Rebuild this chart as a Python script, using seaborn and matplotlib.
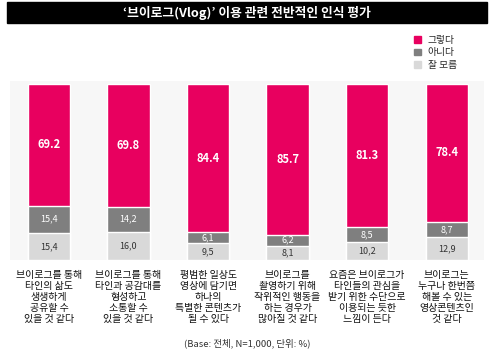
import matplotlib
matplotlib.use("Agg")
import matplotlib.pyplot as plt
import seaborn as sns
import pandas as pd
import numpy as np
from matplotlib.patches import Rectangle, Patch

sns.set_theme(style="white")
plt.rcParams['font.family'] = ['Noto Sans CJK KR', 'DejaVu Sans']

categories = [
    "브이로그를 통해\n타인의 삶도\n생생하게\n공유할 수\n있을 것 같다",
    "브이로그를 통해\n타인과 공감대를\n형성하고\n소통할 수\n있을 것 같다",
    "평범한 일상도\n영상에 담기면\n하나의\n특별한 콘텐츠가\n될 수 있다",
    "브이로그를\n촬영하기 위해\n작위적인 행동을\n하는 경우가\n많아질 것 같다",
    "요즘은 브이로그가\n타인들의 관심을\n받기 위한 수단으로\n이용되는 듯한\n느낌이 든다",
    "브이로그는\n누구나 한번쯤\n해볼 수 있는\n영상콘텐츠인\n것 같다",
]
yes_vals = [69.2, 69.8, 84.4, 85.7, 81.3, 78.4]
no_vals = [15.4, 14.2, 6.1, 6.2, 8.5, 8.7]
dk_vals = [15.4, 16.0, 9.5, 8.1, 10.2, 12.9]
series_names = ["그렇다", "아니다", "잘 모름"]
title = "‘브이로그(Vlog)’ 이용 관련 전반적인 인식 평가"
footer = "(Base: 전체, N=1,000, 단위: %)"

PINK = "#E8005F"
GRAY = "#7F7F7F"
LIGHT = "#D9D9D9"

W, H = 494, 354
fig = plt.figure(figsize=(W / 100, H / 100), dpi=100)

# title bar
fig.patches.append(Rectangle((7 / W, 1 - 23 / H), 480 / W, 21 / H,
                             transform=fig.transFigure, color="black", zorder=0))
fig.text(247 / W, 1 - 13 / H, title, color="white", fontsize=9.2,
         fontweight="bold", ha="center", va="center")

ax = fig.add_axes([10 / W, 1 - 260 / H, 474 / W, 179 / H])
ax.set_facecolor("#F7F7F7")

df = pd.DataFrame({"cat": categories, "yes": yes_vals, "no": no_vals, "dk": dk_vals})
df["top"] = df["yes"] + df["no"] + df["dk"]
df["mid"] = df["no"] + df["dk"]

bw = 0.53
sns.barplot(data=df, x="cat", y="top", color=PINK, saturation=1, width=bw, ax=ax, order=categories)
sns.barplot(data=df, x="cat", y="mid", color=GRAY, saturation=1, width=bw, ax=ax, order=categories)
sns.barplot(data=df, x="cat", y="dk", color=LIGHT, saturation=1, width=bw, ax=ax, order=categories)

for i in range(len(categories)):
    y_dk = dk_vals[i]
    y_no = no_vals[i]
    y_yes = yes_vals[i]
    ax.text(i, y_dk / 2, f"{y_dk:.1f}".replace(".", ","), ha="center", va="center",
            fontsize=6.5, color="#333333")
    ax.text(i, y_dk + y_no / 2, f"{y_no:.1f}".replace(".", ","), ha="center", va="center",
            fontsize=6.5, color="white")
    ax.text(i, y_dk + y_no + y_yes / 2, f"{y_yes:.1f}", ha="center", va="center",
            fontsize=8, color="white", fontweight="bold")

ax.set_xlim(-0.49, 5.47)
ax.set_ylim(0, 101.5)
ax.set_xlabel("")
ax.set_ylabel("")
ax.set_yticks([])
ax.set_xticks(range(len(categories)))
ax.set_xticklabels(categories, fontsize=7.2, color="#111111", linespacing=1.12)
ax.tick_params(axis="x", length=0, pad=7.5)
for s in ax.spines.values():
    s.set_visible(False)

handles = [Patch(color=c) for c in [PINK, GRAY, LIGHT]]
fig.legend(handles, series_names, loc="upper left", bbox_to_anchor=(414 / W, 1 - 35 / H),
           frameon=False, fontsize=7, handlelength=0.7, handleheight=0.7,
           handletextpad=0.7, labelspacing=0.25, borderaxespad=0, borderpad=0)

fig.text(247 / W, 1 - 343 / H, footer, ha="center", va="center", fontsize=6.8, color="#333333")

fig.savefig("out.png", dpi=100)
